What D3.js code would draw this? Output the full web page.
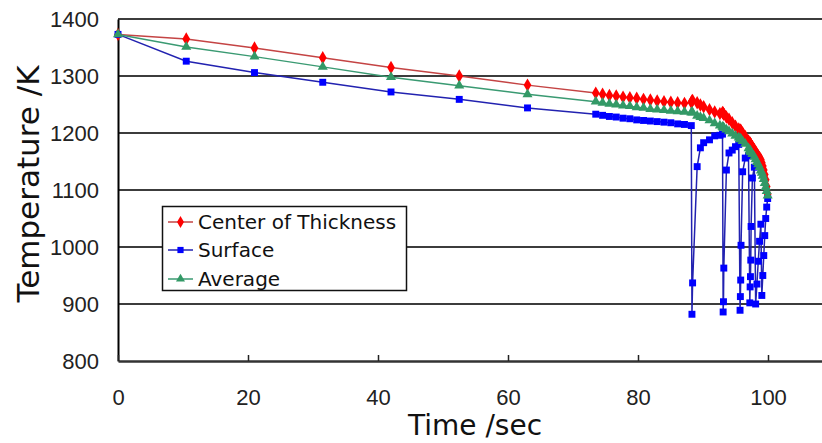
<!DOCTYPE html>
<html>
<head>
<meta charset="utf-8">
<script src="https://cdn.jsdelivr.net/npm/d3@7"></script>
<style>
  html, body { margin: 0; padding: 0; background: #fff; }
  svg { display: block; }
</style>
</head>
<body>
<div class="chart"></div>
<script>
// time axis shared by all three series (sec)
const times = [0, 10.5, 21, 31.5, 42, 52.5, 63, 73.5,
  74.55, 75.6, 76.65, 77.7, 78.75, 79.8, 80.85, 81.9, 82.95, 84, 85.05, 86.1, 87.15, 88.2,
  88.3, 88.4, 89.1, 89.6, 90.1, 91.0, 91.8, 92.6, 93.0,
  93.1, 93.15, 93.2, 93.6, 94.0, 94.5, 95.0, 95.5,
  95.7, 95.75, 95.8, 95.85, 96.1, 96.5, 97.0,
  97.2, 97.25, 97.3, 97.35, 97.4, 97.6, 97.9,
  98.1, 98.3, 98.5, 98.7, 98.9, 99.05, 99.2, 99.35, 99.5, 99.65, 99.8, 99.95];

const centerTemp = [1373, 1365, 1349, 1332, 1315, 1300, 1284, 1270,
  1268, 1266, 1265, 1263, 1262, 1261, 1259, 1258, 1256, 1255, 1254, 1253, 1252, 1254,
  1256, 1257, 1253, 1249, 1246, 1241, 1237, 1234, 1236,
  1235, 1234, 1233, 1228, 1224, 1218, 1212, 1207,
  1205, 1205, 1204, 1204, 1200, 1194, 1186,
  1183, 1182, 1181, 1180, 1179, 1176, 1171,
  1167, 1163, 1160, 1157, 1153, 1148, 1142, 1135, 1127, 1118, 1106, 1093];

const surfaceTemp = [1373, 1326, 1306, 1289, 1272, 1259, 1244, 1233,
  1231, 1229, 1228, 1226, 1225, 1223, 1222, 1221, 1220, 1219, 1218, 1216, 1215, 1213,
  882, 937, 1141, 1174, 1183, 1188, 1195, 1196, 1198,
  886, 904, 963, 1135, 1165, 1170, 1176, 1180,
  889, 913, 942, 1003, 1132, 1156, 1160,
  902, 930, 948, 977, 1036, 1121, 1140,
  900, 935, 975, 1010, 1040, 915, 950, 985, 1020, 1050, 1070, 1085];

const averageTemp = [1373, 1351, 1334, 1316, 1298, 1283, 1268, 1255,
  1253, 1251, 1250, 1248, 1247, 1245, 1244, 1242, 1241, 1240, 1239, 1238, 1237, 1236,
  1237, 1236, 1230, 1228, 1226, 1222, 1217, 1213, 1211,
  1210, 1210, 1209, 1206, 1203, 1199, 1195, 1192,
  1190, 1190, 1189, 1189, 1186, 1181, 1173,
  1170, 1169, 1168, 1167, 1166, 1163, 1158,
  1154, 1149, 1145, 1140, 1134, 1130, 1125, 1119, 1112, 1105, 1098, 1090];

const seriesNames = ["Center of Thickness", "Surface", "Average"];
const xTicks = [0, 20, 40, 60, 80, 100];
const yTicks = [800, 900, 1000, 1100, 1200, 1300, 1400];

const W = 822, H = 443;
const plotLeft = 118, plotTop = 19, plotBottom = 361;

const svg = d3.select(".chart")
  .append("svg")
  .attr("width", W)
  .attr("height", H);

const x = d3.scaleLinear().domain([0, 110]).range([plotLeft, 833]);
const y = d3.scaleLinear().domain([800, 1400]).range([plotBottom, plotTop]);

// gridlines
svg.append("g")
  .selectAll("line")
  .data(yTicks.filter(d => d > 800))
  .enter()
  .append("line")
  .attr("x1", plotLeft)
  .attr("x2", W)
  .attr("y1", d => y(d))
  .attr("y2", d => y(d))
  .attr("stroke", "#3c3c3c")
  .attr("stroke-width", 2);

// y axis
const yAxis = svg.append("g")
  .attr("transform", `translate(${plotLeft},0)`)
  .call(d3.axisLeft(y).tickValues(yTicks).tickFormat(d3.format("d")).tickSize(0).tickPadding(19));
yAxis.select(".domain").attr("stroke", "#000").attr("stroke-width", 2);
yAxis.selectAll("text")
  .style("font-family", "'Liberation Sans', Arial, sans-serif")
  .style("font-size", "22px")
  .attr("fill", "#222");

// x axis
const xAxis = svg.append("g")
  .attr("transform", `translate(0,${plotBottom})`)
  .call(d3.axisBottom(x).tickValues(xTicks).tickFormat(d3.format("d"))
    .tickSizeInner(-6).tickSizeOuter(0).tickPadding(28));
xAxis.select(".domain").attr("stroke", "#333").attr("stroke-width", 2.5);
xAxis.selectAll(".tick line").attr("stroke", "#222").attr("stroke-width", 1.5);
xAxis.selectAll("text")
  .style("font-family", "'Liberation Sans', Arial, sans-serif")
  .style("font-size", "22px")
  .attr("fill", "#222");

// axis titles
svg.append("text")
  .attr("transform", "translate(39,184) rotate(-90)")
  .attr("text-anchor", "middle")
  .style("font-family", "'DejaVu Sans', sans-serif")
  .style("font-size", "31px")
  .attr("fill", "#111")
  .text("Temperature /K");

svg.append("text")
  .attr("x", 475)
  .attr("y", 435)
  .attr("text-anchor", "middle")
  .style("font-family", "'DejaVu Sans', sans-serif")
  .style("font-size", "28px")
  .attr("fill", "#111")
  .text("Time /sec");

// series
const styles = [
  { values: centerTemp, line: "#c44444", mark: "#ff0000", symbol: d3.symbolDiamond, size: 52 },
  { values: surfaceTemp, line: "#2222b0", mark: "#0000ff", symbol: d3.symbolSquare, size: 48 },
  { values: averageTemp, line: "#3a9a72", mark: "#339966", symbol: d3.symbolTriangle, size: 44 }
];

const line = d3.line()
  .x(d => x(d[0]))
  .y(d => y(d[1]));

styles.forEach(s => {
  const pts = times.map((t, i) => [t, s.values[i]]);
  svg.append("path")
    .datum(pts)
    .attr("d", line)
    .attr("fill", "none")
    .attr("stroke", s.line)
    .attr("stroke-width", 1.5);
  svg.append("g")
    .selectAll("path")
    .data(pts)
    .enter()
    .append("path")
    .attr("transform", d => `translate(${x(d[0])},${y(d[1])})`)
    .attr("d", d3.symbol().type(s.symbol).size(s.size))
    .attr("fill", s.mark);
});

// legend
const legend = svg.append("g");
legend.append("rect")
  .attr("x", 162.5)
  .attr("y", 206.5)
  .attr("width", 244)
  .attr("height", 84)
  .attr("fill", "#fff")
  .attr("stroke", "#111")
  .attr("stroke-width", 1.5);

const rows = legend.selectAll("g.row")
  .data(styles)
  .enter()
  .append("g")
  .attr("class", "row")
  .attr("transform", (d, i) => `translate(0,${[222, 250, 279][i]})`);

rows.append("line")
  .attr("x1", 168)
  .attr("x2", 193)
  .attr("stroke", d => d.line)
  .attr("stroke-width", 1.5);
rows.append("path")
  .attr("transform", "translate(180.5,0)")
  .attr("d", d => d3.symbol().type(d.symbol).size(d.size * 0.8)())
  .attr("fill", d => d.mark);
rows.append("text")
  .attr("x", 198)
  .attr("dy", "0.36em")
  .style("font-family", "'DejaVu Sans', sans-serif")
  .style("font-size", "20px")
  .attr("fill", "#111")
  .text((d, i) => seriesNames[i]);
</script>
</body>
</html>
